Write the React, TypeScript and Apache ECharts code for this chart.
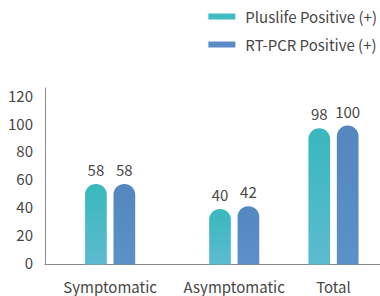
import React, { useEffect, useRef } from "react";
import * as echarts from "echarts";

const categories = ["Symptomatic", "Asymptomatic", "Total"];
const pluslifeValues = [58, 40, 98];
const rtpcrValues = [58, 42, 100];
const yTicks = [0, 20, 40, 60, 80, 100, 120];

// layout: slot index of each category on a fine category axis (uneven spacing in reference)
const slotCount = 54;
const slotIndex = [10, 30, 46];

const FONT = "Noto Sans CJK SC";
const TEXT = "#474747";

export default function App() {
  const ref = useRef<HTMLDivElement>(null);
  useEffect(() => {
    document.body.style.margin = "0";
    const chart = echarts.init(ref.current!, null, { renderer: "svg" });
    const axisData: string[] = new Array(slotCount).fill("");
    const s1: any[] = new Array(slotCount).fill("-");
    const s2: any[] = new Array(slotCount).fill("-");
    categories.forEach((c, i) => {
      axisData[slotIndex[i]] = c;
      s1[slotIndex[i]] = pluslifeValues[i];
      s2[slotIndex[i]] = rtpcrValues[i];
    });
    const label = {
      show: true,
      position: "top",
      distance: 7,
      fontSize: 15,
      color: TEXT,
      fontFamily: FONT,
    };
    chart.setOption({
      animation: false,
      textStyle: { fontFamily: FONT },
      grid: { left: 45, right: 0, top: 88, bottom: 31.5 },
      legend: {
        orient: "vertical",
        right: -2,
        top: 4,
        itemWidth: 27,
        itemHeight: 6,
        itemGap: 13,
        icon: "rect",
        textStyle: {
          fontSize: 15,
          color: TEXT,
          fontFamily: FONT,
          padding: [0, 0, 0, 5],
        },
        data: [
          { name: "Pluslife Positive (+)", itemStyle: { color: "#3fbcc3" } },
          { name: "RT-PCR Positive (+)", itemStyle: { color: "#5a8bc6" } },
        ],
      },
      xAxis: {
        type: "category",
        data: axisData,
        axisTick: { show: false },
        axisLine: { lineStyle: { color: "#888", width: 1 } },
        axisLabel: {
          interval: 0,
          fontSize: 15,
          color: TEXT,
          margin: 14,
          fontFamily: FONT,
        },
      },
      yAxis: {
        type: "value",
        min: 0,
        max: 127,
        interval: 20,
        splitLine: { show: false },
        axisLine: { show: true, lineStyle: { color: "#888", width: 1 } },
        axisTick: { show: false },
        axisLabel: {
          showMaxLabel: false,
          fontSize: 15,
          color: TEXT,
          margin: 12,
          verticalAlign: "bottom",
          lineHeight: 5,
          fontFamily: FONT,
          formatter: (v: number) => (yTicks.includes(v) ? String(v) : ""),
        },
      },
      series: [
        {
          name: "Pluslife Positive (+)",
          type: "bar",
          data: s1,
          barWidth: 21.7,
          barGap: "31%",
          label,
          itemStyle: {
            borderRadius: [11, 11, 0, 0],
            color: new echarts.graphic.LinearGradient(0, 0, 0, 1, [
              { offset: 0, color: "#38b8bd" },
              { offset: 1, color: "#5cbbd0" },
            ]),
          },
        },
        {
          name: "RT-PCR Positive (+)",
          type: "bar",
          data: s2,
          barWidth: 21.7,
          label,
          itemStyle: {
            borderRadius: [11, 11, 0, 0],
            color: new echarts.graphic.LinearGradient(0, 0, 0, 1, [
              { offset: 0, color: "#5487c0" },
              { offset: 1, color: "#5b90c8" },
            ]),
          },
        },
      ],
    });
    return () => chart.dispose();
  }, []);
  return <div ref={ref} style={{ width: 380, height: 296 }} />;
}
